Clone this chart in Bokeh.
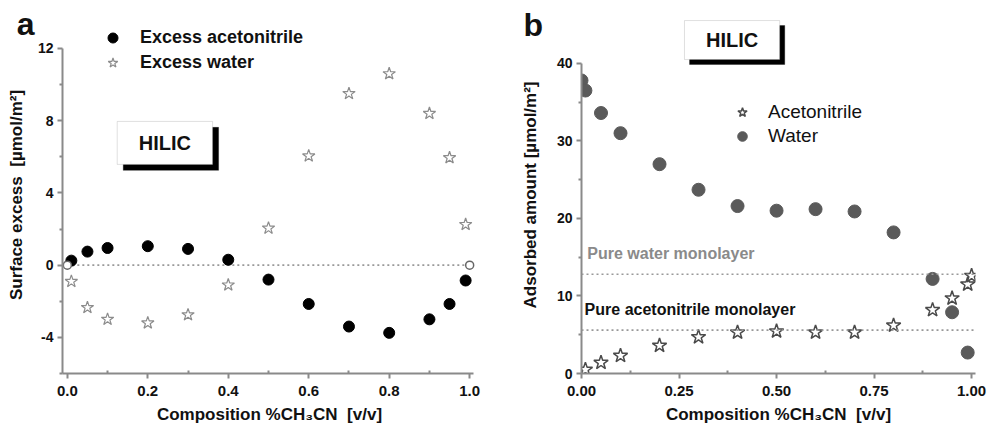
from bokeh.plotting import figure
from bokeh.models import (Range1d, FixedTicker, PrintfTickFormatter, Legend, LegendItem,
                          Label, BoxAnnotation, Span)
from bokeh.layouts import row
from bokeh.embed import file_html
from bokeh.resources import INLINE

# ---------------- data ----------------
# panel a: surface excess
a_x = [0.01, 0.05, 0.1, 0.2, 0.3, 0.4, 0.5, 0.6, 0.7, 0.8, 0.9, 0.95, 0.99]
a_excess_acn = [0.25, 0.75, 0.95, 1.05, 0.9, 0.3, -0.8, -2.15, -3.4, -3.75, -3.0, -2.15, -0.85]
a_excess_water = [-0.9, -2.35, -3.0, -3.2, -2.75, -1.1, 2.05, 6.05, 9.5, 10.6, 8.4, 5.95, 2.25]
a_end_x = [0.0, 1.0]
a_end_y = [0.0, 0.0]
a_zero_x = [0.0, 1.0]
a_zero_y = [0.0, 0.0]
a_xticks = [0.0, 0.2, 0.4, 0.6, 0.8, 1.0]
a_xminor = [0.1, 0.3, 0.5, 0.7, 0.9]
a_yticks = [-4, 0, 4, 8, 12]
a_yminor = [-6, -2, 2, 6, 10]

# panel b: adsorbed amounts
b_x_water = [0.0, 0.01, 0.05, 0.1, 0.2, 0.3, 0.4, 0.5, 0.6, 0.7, 0.8, 0.9, 0.95, 0.99]
b_water = [37.8, 36.5, 33.6, 31.0, 27.0, 23.7, 21.6, 21.0, 21.2, 20.9, 18.2, 12.2, 7.9, 2.7]
b_x_acn = [0.01, 0.05, 0.1, 0.2, 0.3, 0.4, 0.5, 0.6, 0.7, 0.8, 0.9, 0.95, 0.99, 1.0]
b_acn = [0.5, 1.4, 2.3, 3.6, 4.7, 5.3, 5.45, 5.3, 5.3, 6.2, 8.2, 9.7, 11.5, 12.6]
water_monolayer = 12.8
acn_monolayer = 5.6
b_xticks = [0.0, 0.25, 0.5, 0.75, 1.0]
b_xminor = [0.125, 0.375, 0.625, 0.875]
b_yticks = [0, 10, 20, 30, 40]
b_yminor = [5, 15, 25, 35]

FONT = "Liberation Sans"
AXC = "#8a8a8a"
TXT = "#111111"
SP2 = "\u00a0\u00a0"


def style_axes(p, ylabel_standoff):
    p.xgrid.visible = False
    p.ygrid.visible = False
    p.outline_line_color = None
    p.background_fill_color = "white"
    p.border_fill_color = "white"
    for ax in (p.xaxis[0], p.yaxis[0]):
        ax.axis_line_color = AXC
        ax.axis_line_width = 2
        ax.major_tick_line_color = AXC
        ax.major_tick_line_width = 2
        ax.minor_tick_line_color = AXC
        ax.minor_tick_line_width = 2
        ax.major_tick_out = 5
        ax.major_tick_in = 0
        ax.major_label_text_font = FONT
        ax.major_label_text_font_style = "bold"
        ax.major_label_text_color = TXT
        ax.major_label_standoff = 4
        ax.axis_label_text_font = FONT
        ax.axis_label_text_font_style = "bold"
        ax.axis_label_text_font_size = "17px"
        ax.axis_label_text_color = TXT
    p.xaxis[0].major_label_text_font_size = "15px"
    p.yaxis[0].major_label_text_font_size = "14px"
    p.xaxis[0].major_label_standoff = 7
    p.xaxis[0].axis_label_standoff = 6
    p.yaxis[0].axis_label_standoff = ylabel_standoff
    p.xaxis[0].minor_tick_in = 3
    p.xaxis[0].minor_tick_out = 0
    p.yaxis[0].minor_tick_out = 3
    p.yaxis[0].minor_tick_in = 0


# ---------------- panel a ----------------
pa = figure(width=496, height=428, x_range=Range1d(-0.012, 1.017), y_range=Range1d(-6.0, 13.77),
            output_backend="svg", toolbar_location=None,
            min_border_left=62, min_border_right=20, min_border_top=16, min_border_bottom=55)
style_axes(pa, 9)
pa.xaxis[0].ticker = FixedTicker(ticks=a_xticks, minor_ticks=a_xminor)
pa.xaxis[0].formatter = PrintfTickFormatter(format="%.1f")
pa.yaxis[0].ticker = FixedTicker(ticks=a_yticks, minor_ticks=a_yminor)
pa.yaxis[0].formatter = PrintfTickFormatter(format="%d")
pa.xaxis[0].bounds = (-0.012, 1.01)
pa.yaxis[0].bounds = (-6, 12)
pa.xaxis[0].axis_label = "Composition %CH\u2083CN" + SP2 + "[v/v]"
pa.yaxis[0].axis_label = "Surface excess" + SP2 + "[\u00b5mol/m\u00b2]"

pa.line(a_zero_x, a_zero_y, line_color="#999999", line_width=1.6, line_dash="2 3")
ra_w = pa.scatter(a_x, a_excess_water, marker="star", size=13, fill_color="white",
                  line_color="#8c8c8c", line_width=1.2)
ra_a = pa.scatter(a_x, a_excess_acn, marker="circle", size=11, fill_color="black", line_color="black")
pa.scatter(a_end_x, a_end_y, marker="circle", size=8, fill_color="white", line_color="#666666", line_width=1.5)

pa.add_layout(BoxAnnotation(left=0.139, right=0.376, bottom=5.25, top=7.63,
                            fill_color="black", fill_alpha=1, line_color="black"))
pa.add_layout(BoxAnnotation(left=0.124, right=0.361, bottom=5.58, top=7.96,
                            fill_color="white", fill_alpha=1, line_color="#999999", line_width=1))
pa.add_layout(Label(x=0.2425, y=6.77, text="HILIC", text_align="center", text_baseline="middle",
                    text_font=FONT, text_font_style="bold", text_font_size="20px", text_color=TXT))
# panel letter: placed in a side panel so that it is not clipped to the frame
pa.add_layout(Label(x=-0.126, y=13.33, text="a", text_baseline="middle", text_font=FONT,
                    text_font_style="bold", text_font_size="32px", text_color=TXT), "right")

leg_a = Legend(items=[LegendItem(label="Excess acetonitrile", renderers=[ra_a]),
                      LegendItem(label="Excess water", renderers=[ra_w])],
               location=(38, 298), orientation="vertical", padding=0, margin=0, spacing=0,
               glyph_width=25, glyph_height=25, label_height=25, label_standoff=15,
               label_text_font=FONT, label_text_font_style="bold", label_text_font_size="18px",
               label_text_color=TXT, border_line_alpha=0, background_fill_alpha=0)
pa.add_layout(leg_a)

# ---------------- panel b ----------------
pb = figure(width=491, height=428, x_range=Range1d(0.0, 1.01), y_range=Range1d(0.0, 46.05),
            output_backend="svg", toolbar_location=None,
            min_border_left=85, min_border_right=12, min_border_top=16, min_border_bottom=54)
style_axes(pb, 14)
pb.xaxis[0].ticker = FixedTicker(ticks=b_xticks, minor_ticks=b_xminor)
pb.xaxis[0].formatter = PrintfTickFormatter(format="%.2f")
pb.yaxis[0].ticker = FixedTicker(ticks=b_yticks, minor_ticks=b_yminor)
pb.yaxis[0].formatter = PrintfTickFormatter(format="%d")
pb.xaxis[0].bounds = (0.0, 1.01)
pb.yaxis[0].bounds = (0, 40)
pb.xaxis[0].axis_label = "Composition %CH\u2083CN" + SP2 + "[v/v]"
pb.yaxis[0].axis_label = "Adsorbed amount [\u00b5mol/m\u00b2]"

pb.add_layout(Span(location=water_monolayer, dimension="width", line_color="#999999",
                   line_width=1.6, line_dash="2 3"))
pb.add_layout(Span(location=acn_monolayer, dimension="width", line_color="#999999",
                   line_width=1.6, line_dash="2 3"))
pb.add_layout(Label(x=0.015, y=water_monolayer + 1.6, text="Pure water monolayer", text_font=FONT,
                    text_font_style="bold", text_font_size="16px", text_color="#8a8a8a"))
pb.add_layout(Label(x=0.008, y=acn_monolayer + 1.6, text="Pure acetonitrile monolayer", text_font=FONT,
                    text_font_style="bold", text_font_size="16px", text_color=TXT))

rb_w = pb.scatter(b_x_water, b_water, marker="circle", size=13, fill_color="#5a5a5a", line_color="#5a5a5a")
rb_a = pb.scatter(b_x_acn, b_acn, marker="star", size=15, fill_color="white",
                  line_color="#4a4a4a", line_width=1.5)

pb.add_layout(BoxAnnotation(left=0.277, right=0.521, bottom=39.86, top=44.89,
                            fill_color="black", fill_alpha=1, line_color="black"))
pb.add_layout(BoxAnnotation(left=0.264, right=0.508, bottom=40.5, top=45.53,
                            fill_color="white", fill_alpha=1, line_color="#999999", line_width=1))
pb.add_layout(Label(x=0.386, y=43.0, text="HILIC", text_align="center", text_baseline="middle",
                    text_font=FONT, text_font_style="bold", text_font_size="20px", text_color=TXT))
pb.add_layout(Label(x=-0.149, y=45.0, text="b", text_baseline="middle", text_font=FONT,
                    text_font_style="bold", text_font_size="32px", text_color=TXT), "left")

leg_b = Legend(items=[LegendItem(label="Acetonitrile", renderers=[rb_a]),
                      LegendItem(label="Water", renderers=[rb_w])],
               location=(149, 225), orientation="vertical", padding=0, margin=0, spacing=0,
               glyph_width=24, glyph_height=24, label_height=24, label_standoff=14,
               label_text_font=FONT, label_text_font_size="19px",
               label_text_color=TXT, border_line_alpha=0, background_fill_alpha=0)
pb.add_layout(leg_b)

layout = row(pa, pb, spacing=0)
open("out.html", "w").write(file_html(layout, INLINE))
